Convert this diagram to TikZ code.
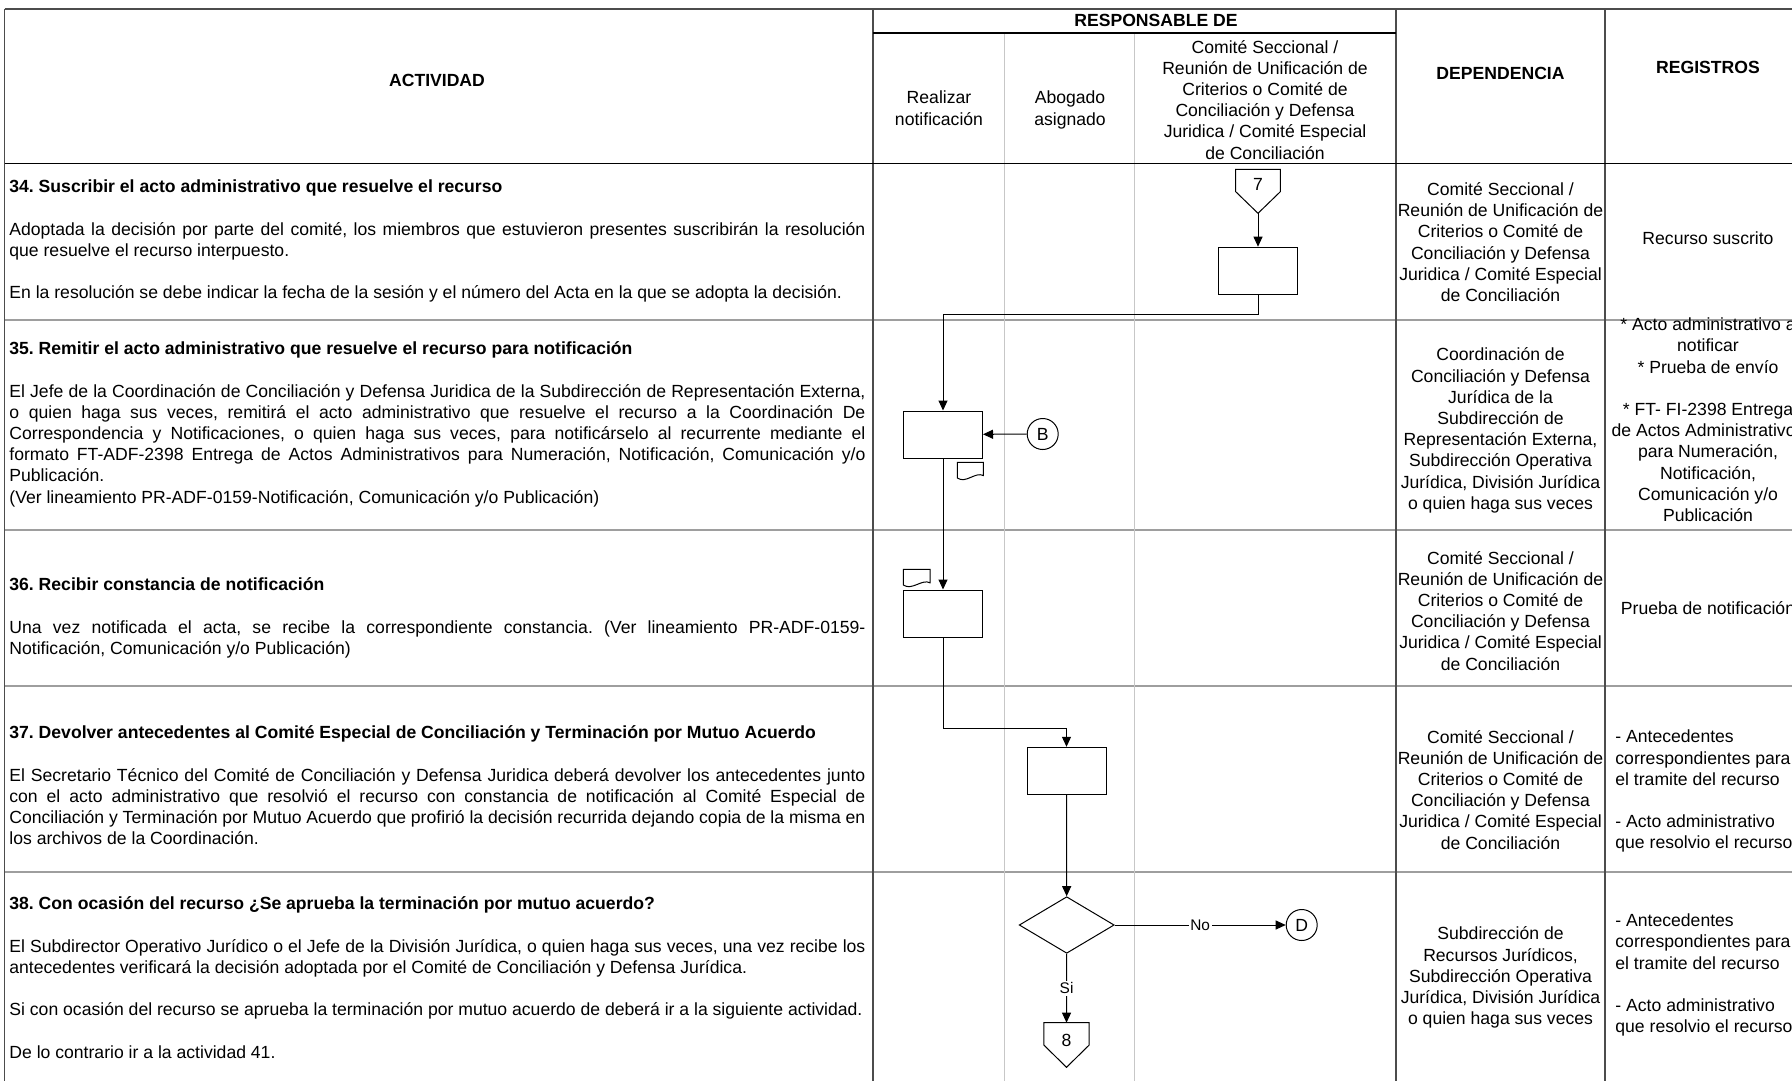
\documentclass[tikz,border=0pt]{standalone}
\usepackage{fontspec}
\setmainfont{Liberation Sans}
\usepackage{tikz}
\usetikzlibrary{arrows.meta,shapes.geometric}
\tikzstyle{txt}=[anchor=north, inner sep=0pt, yshift=4.25pt, font=\fontsize{8.8}{10.6}\selectfont, execute at begin node={\spaceskip=0pt\xspaceskip=0pt\frenchspacing\strut}]
\tikzstyle{acttxt}=[txt, anchor=north west, text width=428pt, align=justify]
\tikzstyle{celltxt}=[txt, align=center]
\tikzstyle{listtxt}=[txt, anchor=north west, align=left]
\tikzstyle{headtxt}=[txt, font=\fontsize{8.8}{10.6}\selectfont\bfseries]
\tikzstyle{darkline}=[draw=black!70, line width=0.65pt]
\tikzstyle{lightline}=[draw=black!22, line width=0.5pt]
\tikzstyle{rowline}=[draw=black!38, line width=0.6pt]
\tikzstyle{task}=[draw, rectangle, fill=white, minimum width=39.5pt, minimum height=23.5pt, inner sep=0pt, line width=0.5pt]
\tikzstyle{decision}=[draw, diamond, fill=white, minimum width=47.5pt, minimum height=28.3pt, inner sep=0pt, line width=0.5pt]
\tikzstyle{link}=[draw, circle, fill=white, minimum size=15.5pt, inner sep=0pt, line width=0.5pt, font=\fontsize{8.8}{10.6}\selectfont]
\tikzstyle{offtxt}=[inner sep=0pt, font=\fontsize{8.8}{10.6}\selectfont]
\tikzstyle{flowlabel}=[fill=white, inner sep=0.8pt, font=\fontsize{7.7}{9}\selectfont]
\tikzstyle{arrow}=[draw=black, line width=0.5pt, >={Triangle[length=5pt,width=4.5pt]}]
\newcommand{\jline}[1]{\makebox[428pt][s]{#1}}
\newcommand{\comite}{Comité Seccional /\\Reunión de Unificación de\\Criterios o Comité de\\Conciliación y Defensa\\Juridica / Comité Especial\\de Conciliación}
\newcommand{\antecedentes}{- Antecedentes\\correspondientes para\\el tramite del recurso\\[10.6pt]- Acto administrativo\\que resolvio el recurso}
\begin{document}
\begin{tikzpicture}[x=0.5pt,y=-0.5pt]
	\useasboundingbox (0,0) rectangle (1792,1081);
	\clip (0,0) rectangle (1792,1081);
	\fill[white] (0,0) rectangle (1792,1081);
	\begin{scope}
		\foreach \y in {320,530,686,872}
			\draw[rowline] (4.5,\y) -- (1792,\y);
		\foreach \x in {1004,1134.5}
			\draw[lightline] (\x,33) -- (\x,1081);
		\foreach \x in {4.5,873,1396,1605}
			\draw[darkline] (\x,9) -- (\x,1081);
		\draw[darkline] (4.5,9) -- (1792,9);
		\draw[black, line width=0.65pt] (873,33) -- (1396,33);
		\draw[black, line width=0.8pt] (4.5,163.5) -- (1792,163.5);
	\end{scope}
	\begin{scope}
		\node (hact) at (437,80) [headtxt] {ACTIVIDAD};
		\node (hresp) at (1156,20) [headtxt] {RESPONSABLE DE};
		\node (hnotif) at (939,99.3) [celltxt] {Realizar\\notificación};
		\node (habog) at (1070,99.3) [celltxt] {Abogado\\asignado};
		\node (hcomite) at (1265,48.3) [celltxt] {\comite};
		\node (hdep) at (1500.5,72.7) [headtxt] {DEPENDENCIA};
		\node (hreg) at (1708,66.7) [headtxt] {REGISTROS};
	\end{scope}
	\begin{scope}
		\node (act34) at (9,186) [acttxt] {\textbf{34. Suscribir el acto administrativo que resuelve el recurso}\\[10.6pt]
			\jline{Adoptada la decisión por parte del comité, los miembros que estuvieron presentes suscribirán la resolución}\\
			que resuelve el recurso interpuesto.\\[10.6pt]
			En la resolución se debe indicar la fecha de la sesión y el número del Acta en la que se adopta la decisión.};
		\node (act35) at (9,348) [acttxt] {\textbf{35. Remitir el acto administrativo que resuelve el recurso para notificación}\\[10.6pt]
			\jline{El Jefe de la Coordinación de Conciliación y Defensa Juridica de la Subdirección de Representación Externa,}\\
			\jline{o quien haga sus veces, remitirá el acto administrativo que resuelve el recurso a la Coordinación De}\\
			\jline{Correspondencia y Notificaciones, o quien haga sus veces, para notificárselo al recurrente mediante el}\\
			\jline{formato FT-ADF-2398 Entrega de Actos Administrativos para Numeración, Notificación, Comunicación y/o}\\
			Publicación.\\
			(Ver lineamiento PR-ADF-0159-Notificación, Comunicación y/o Publicación)};
		\node (act36) at (9,584) [acttxt] {\textbf{36. Recibir constancia de notificación}\\[10.6pt]
			\jline{Una vez notificada el acta, se recibe la correspondiente constancia. (Ver lineamiento PR-ADF-0159-}\\
			Notificación, Comunicación y/o Publicación)};
		\node (act37) at (9,732) [acttxt] {\textbf{37. Devolver antecedentes al Comité Especial de Conciliación y Terminación por Mutuo Acuerdo}\\[10.6pt]
			\jline{El Secretario Técnico del Comité de Conciliación y Defensa Juridica deberá devolver los antecedentes junto}\\
			\jline{con el acto administrativo que resolvió el recurso con constancia de notificación al Comité Especial de}\\
			\jline{Conciliación y Terminación por Mutuo Acuerdo que profirió la decisión recurrida dejando copia de la misma en}\\
			los archivos de la Coordinación.};
		\node (act38) at (9,903) [acttxt] {\textbf{38. Con ocasión del recurso ¿Se aprueba la terminación por mutuo acuerdo?}\\[10.6pt]
			\jline{El Subdirector Operativo Jurídico o el Jefe de la División Jurídica, o quien haga sus veces, una vez recibe los}\\
			antecedentes verificará la decisión adoptada por el Comité de Conciliación y Defensa Jurídica.\\[10.6pt]
			Si con ocasión del recurso se aprueba la terminación por mutuo acuerdo de deberá ir a la siguiente actividad.\\[10.6pt]
			De lo contrario ir a la actividad 41.};
	\end{scope}
	\begin{scope}
		\node (dep34) at (1500.5,190.7) [celltxt] {\comite};
		\node (dep35) at (1500.5,356) [celltxt] {Coordinación de\\Conciliación y Defensa\\Jurídica de la\\Subdirección de\\Representación Externa,\\Subdirección Operativa\\Jurídica, División Jurídica\\o quien haga sus veces};
		\node (dep36) at (1500.5,559.3) [celltxt] {\comite};
		\node (dep37) at (1500.5,738.3) [celltxt] {\comite};
		\node (dep38) at (1500.5,935) [celltxt] {Subdirección de\\Recursos Jurídicos,\\Subdirección Operativa\\Jurídica, División Jurídica\\o quien haga sus veces};
		\node (reg34) at (1708,237.7) [celltxt] {Recurso suscrito};
		\node (reg35) at (1708,326) [celltxt] {{}* Acto administrativo a\\notificar\\{}* Prueba de envío\\[10.6pt]{}* FT- FI-2398 Entrega\\de Actos Administrativo\phantom{s}\\para Numeración,\\Notificación,\\Comunicación y/o\\Publicación};
		\node (reg36) at (1708,607.7) [celltxt] {Prueba de notificación};
		\node (reg37) at (1615,738.3) [listtxt] {\antecedentes};
		\node (reg38) at (1615,922) [listtxt] {\antecedentes};
	\end{scope}
	\begin{scope}
		\node (box1) at (1258,270.7) [task] {};
		\node (box2) at (943,434.5) [task] {};
		\node (box3) at (943,613.5) [task] {};
		\node (box4) at (1066.5,770.8) [task] {};
		\node (dec) at (1066.7,925) [decision] {};
		\node (linkB) at (1042.7,434) [link] {B};
		\node (linkD) at (1301.7,925) [link] {D};
		\node (c7) at (1258,184) [offtxt] {7};
		\node (c8) at (1066.5,1040) [offtxt] {8};
		\coordinate (c7tip) at (1258,213.3);
		\coordinate (c8top) at (1066.5,1022.7);
		\draw[line width=0.5pt] (1235.7,169.3) -- (1280.3,169.3) -- (1280.3,191.7) -- (c7tip) -- (1235.7,191.7) -- cycle;
		\draw[line width=0.5pt] (1043.8,1022.7) -- (1089.2,1022.7) -- (1089.2,1045) -- (1066.5,1067.3) -- (1043.8,1045) -- cycle;
		\draw[line width=0.5pt] (957.3,462.3) -- (983.3,462.3) -- (983.3,475.5) .. controls (975,471.5) and (966,484) .. (957.3,478) -- cycle;
		\draw[line width=0.5pt] (903.3,569.3) -- (930,569.3) -- (930,582.8) .. controls (922,578.5) and (912,591) .. (903.3,585) -- cycle;
	\end{scope}
	\begin{scope}
		\draw [arrow, ->] (c7tip) -- (box1);
		\draw [arrow, ->] (box1) -- ++(0,43.6) -| (box2);
		\draw [arrow, ->] (linkB) -- (box2);
		\draw [arrow, ->] (box2) -- (box3);
		\draw [arrow, ->] (box3) -- ++(0,114.5) -| (box4);
		\draw [arrow, ->] (box4) -- (dec);
		\draw [arrow, ->] (dec) -- node[flowlabel] {No} (linkD);
		\draw [arrow, ->] (dec) -- node[flowlabel] {Si} (c8top);
	\end{scope}
\end{tikzpicture}
\end{document}
